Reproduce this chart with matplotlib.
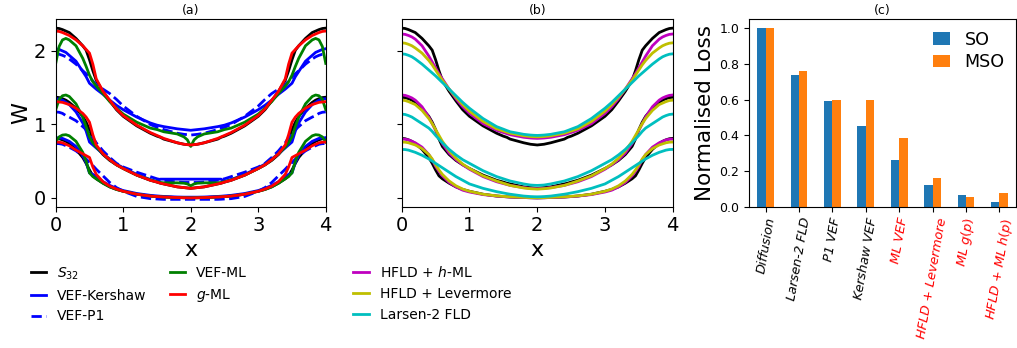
import numpy as np
import matplotlib
matplotlib.use("Agg")
import matplotlib.pyplot as plt

# half profile (x in [0, 2]); the curves are symmetric about x = 2
x_half = [0.0, 0.05, 0.1, 0.15, 0.2, 0.3, 0.4, 0.45, 0.5, 0.55, 0.6, 0.7, 0.8, 0.9,
          1.0, 1.2, 1.4, 1.5, 1.55, 1.6, 1.8, 1.9, 1.95, 2.0]

# S32 reference (three times)
s32_top = [2.31, 2.305, 2.29, 2.27, 2.25, 2.17, 2.07, 2.01, 1.88, 1.73, 1.60, 1.45, 1.32, 1.20,
           1.11, 0.98, 0.88, 0.84, 0.825, 0.80, 0.75, 0.73, 0.725, 0.72]
s32_mid = [1.37, 1.365, 1.35, 1.33, 1.30, 1.22, 1.11, 1.03, 0.93, 0.80, 0.70, 0.59, 0.51, 0.45,
           0.40, 0.31, 0.24, 0.215, 0.20, 0.19, 0.15, 0.14, 0.135, 0.13]
s32_bot = [0.81, 0.805, 0.79, 0.77, 0.74, 0.66, 0.55, 0.47, 0.38, 0.30, 0.26, 0.20, 0.15, 0.115,
           0.09, 0.05, 0.025, 0.018, 0.015, 0.012, 0.005, 0.002, 0.001, 0.0]

# VEF-Kershaw
ker_top = [2.03, 2.02, 2.00, 1.98, 1.94, 1.86, 1.72, 1.65, 1.56, 1.52, 1.48, 1.41, 1.33, 1.26,
           1.20, 1.10, 1.02, 0.99, 0.98, 0.97, 0.94, 0.93, 0.925, 0.92]
ker_mid = [1.35, 1.345, 1.33, 1.30, 1.27, 1.17, 1.02, 0.91, 0.76, 0.72, 0.68, 0.60, 0.53, 0.46,
           0.41, 0.32, 0.25, 0.22, 0.255, 0.255, 0.255, 0.255, 0.255, 0.255]
ker_bot = [0.82, 0.815, 0.81, 0.79, 0.77, 0.70, 0.58, 0.48, 0.34, 0.32, 0.29, 0.22, 0.17, 0.13,
           0.10, 0.06, 0.035, 0.027, 0.023, 0.02, 0.012, 0.01, 0.01, 0.01]

# VEF-P1
p1_top = [1.96, 1.955, 1.94, 1.92, 1.89, 1.82, 1.73, 1.69, 1.64, 1.59, 1.54, 1.48, 1.42, 1.34,
          1.25, 1.11, 1.00, 0.96, 0.95, 0.93, 0.88, 0.865, 0.86, 0.855]
p1_mid = [1.17, 1.165, 1.15, 1.12, 1.10, 1.05, 0.97, 0.93, 0.88, 0.82, 0.75, 0.64, 0.55, 0.47,
          0.42, 0.35, 0.29, 0.26, 0.25, 0.24, 0.215, 0.21, 0.21, 0.21]
p1_bot = [0.74, 0.738, 0.73, 0.71, 0.69, 0.64, 0.57, 0.53, 0.48, 0.44, 0.39, 0.30, 0.21, 0.14,
          0.09, 0.02, -0.01, -0.015, -0.018, -0.02, -0.02, -0.02, -0.02, -0.02]

# VEF-ML
vml_top = [1.83, 2.06, 2.15, 2.17, 2.15, 2.07, 1.90, 1.79, 1.67, 1.58, 1.52, 1.42, 1.31, 1.22,
           1.14, 1.03, 0.95, 0.93, 0.915, 0.90, 0.87, 0.83, 0.79, 0.70]
vml_mid = [1.20, 1.34, 1.39, 1.40, 1.38, 1.28, 1.10, 0.97, 0.83, 0.75, 0.69, 0.60, 0.52, 0.45,
           0.40, 0.31, 0.245, 0.22, 0.21, 0.205, 0.205, 0.20, 0.19, 0.165]
vml_bot = [0.76, 0.83, 0.855, 0.86, 0.845, 0.77, 0.62, 0.50, 0.34, 0.29, 0.26, 0.20, 0.15, 0.115,
           0.09, 0.05, 0.025, 0.018, 0.015, 0.012, 0.005, 0.003, 0.002, 0.0]

# g-ML
gml_top = [2.27, 2.265, 2.25, 2.23, 2.21, 2.15, 2.07, 2.02, 1.97, 1.82, 1.62, 1.45, 1.33, 1.21,
           1.12, 0.99, 0.89, 0.85, 0.83, 0.81, 0.75, 0.73, 0.725, 0.72]
gml_mid = [1.31, 1.305, 1.30, 1.285, 1.27, 1.22, 1.15, 1.10, 1.03, 0.86, 0.72, 0.60, 0.52, 0.45,
           0.40, 0.31, 0.24, 0.215, 0.20, 0.19, 0.15, 0.14, 0.135, 0.13]
gml_bot = [0.76, 0.758, 0.75, 0.73, 0.71, 0.65, 0.60, 0.575, 0.55, 0.42, 0.32, 0.22, 0.16, 0.12,
           0.09, 0.05, 0.025, 0.018, 0.015, 0.012, 0.005, 0.002, 0.001, 0.0]

# HFLD + h-ML
hml_top = [2.23, 2.225, 2.21, 2.19, 2.16, 2.07, 1.93, 1.85, 1.77, 1.69, 1.62, 1.48, 1.35, 1.24,
           1.15, 1.01, 0.92, 0.89, 0.875, 0.86, 0.825, 0.815, 0.812, 0.81]
hml_mid = [1.40, 1.395, 1.38, 1.36, 1.33, 1.24, 1.10, 1.01, 0.92, 0.83, 0.74, 0.61, 0.52, 0.45,
           0.39, 0.29, 0.22, 0.195, 0.183, 0.17, 0.14, 0.13, 0.127, 0.125]
hml_bot = [0.80, 0.798, 0.79, 0.77, 0.75, 0.69, 0.59, 0.52, 0.43, 0.36, 0.30, 0.21, 0.15, 0.105,
           0.08, 0.045, 0.025, 0.018, 0.015, 0.012, 0.005, 0.002, 0.001, 0.0]

# HFLD + Levermore
lev_top = [2.11, 2.105, 2.09, 2.07, 2.04, 1.97, 1.87, 1.81, 1.74, 1.67, 1.60, 1.48, 1.37, 1.27,
           1.18, 1.04, 0.94, 0.91, 0.895, 0.88, 0.845, 0.835, 0.832, 0.83]
lev_mid = [1.33, 1.325, 1.31, 1.29, 1.27, 1.19, 1.08, 1.01, 0.93, 0.85, 0.77, 0.64, 0.54, 0.46,
           0.40, 0.30, 0.23, 0.20, 0.185, 0.17, 0.135, 0.125, 0.122, 0.12]
lev_bot = [0.76, 0.758, 0.75, 0.735, 0.72, 0.67, 0.59, 0.53, 0.45, 0.38, 0.32, 0.23, 0.165, 0.12,
           0.09, 0.05, 0.028, 0.021, 0.018, 0.015, 0.007, 0.004, 0.003, 0.003]

# Larsen-2 FLD
lar_top = [1.96, 1.955, 1.94, 1.92, 1.89, 1.82, 1.74, 1.70, 1.66, 1.615, 1.57, 1.48, 1.39, 1.30,
           1.22, 1.08, 0.97, 0.935, 0.917, 0.90, 0.865, 0.855, 0.852, 0.85]
lar_mid = [1.14, 1.135, 1.12, 1.10, 1.07, 1.01, 0.95, 0.905, 0.85, 0.80, 0.75, 0.66, 0.585, 0.52,
           0.47, 0.37, 0.29, 0.26, 0.245, 0.23, 0.19, 0.175, 0.172, 0.17]
lar_bot = [0.66, 0.658, 0.65, 0.635, 0.62, 0.58, 0.53, 0.50, 0.47, 0.44, 0.41, 0.35, 0.29, 0.24,
           0.19, 0.13, 0.085, 0.067, 0.058, 0.05, 0.025, 0.018, 0.016, 0.015]

# panel (c)
methods = ['Diffusion', 'Larsen-2 FLD', 'P1 VEF', 'Kershaw VEF', 'ML VEF',
           'HFLD + Levermore', 'ML $g(p)$', 'HFLD + ML $h(p)$']
is_ml = [False, False, False, False, True, True, True, True]
loss_so = [1.0, 0.74, 0.59, 0.45, 0.26, 0.12, 0.065, 0.025]
loss_mso = [1.0, 0.76, 0.60, 0.60, 0.385, 0.16, 0.055, 0.075]


def full(y):
    # mirror the half profile about x = 2
    xh = np.array(x_half)
    yh = np.array(y)
    xf = np.concatenate([xh, 4 - xh[::-1][1:]])
    yf = np.concatenate([yh, yh[::-1][1:]])
    return xf, yf


fig = plt.figure(figsize=(10.17, 3.48), dpi=100)
ax1 = fig.add_axes([0.0548, 0.406, 0.2655, 0.5385])
ax2 = fig.add_axes([0.395, 0.406, 0.2665, 0.5385], sharey=ax1)
ax3 = fig.add_axes([0.7365, 0.406, 0.2625, 0.5385])

lw = 2.0
groups_a = [
    ('k', '-', r'$S_{32}$', [s32_top, s32_mid, s32_bot]),
    ('b', '-', 'VEF-Kershaw', [ker_top, ker_mid, ker_bot]),
    ('b', '--', 'VEF-P1', [p1_top, p1_mid, p1_bot]),
    ('g', '-', 'VEF-ML', [vml_top, vml_mid, vml_bot]),
    ('r', '-', '$g$-ML', [gml_top, gml_mid, gml_bot]),
]
for col, ls, lab, curves in groups_a:
    for i, y in enumerate(curves):
        xf, yf = full(y)
        ax1.plot(xf, yf, color=col, ls=ls, lw=lw, label=lab if i == 0 else None)

groups_b = [
    ('k', None, [s32_top, s32_mid, s32_bot]),
    ('m', 'HFLD + $h$-ML', [hml_top, hml_mid, hml_bot]),
    ('y', 'HFLD + Levermore', [lev_top, lev_mid, lev_bot]),
    ('c', 'Larsen-2 FLD', [lar_top, lar_mid, lar_bot]),
]
for col, lab, curves in groups_b:
    for i, y in enumerate(curves):
        xf, yf = full(y)
        ax2.plot(xf, yf, color=col, lw=lw, label=lab if i == 0 else None)

for ax, t in [(ax1, '(a)'), (ax2, '(b)')]:
    ax.set_xlim(0, 4)
    ax.set_ylim(-0.12, 2.43)
    ax.set_xticks([0, 1, 2, 3, 4])
    ax.set_yticks([0, 1, 2])
    ax.tick_params(labelsize=14)
    ax.set_xlabel('x', fontsize=16, labelpad=3)
    ax.set_title(t, fontsize=9, pad=4)
ax1.set_ylabel('W', fontsize=16, labelpad=2)
ax2.tick_params(labelleft=False)

ax1.legend(loc='upper left', bbox_to_anchor=(0.025, 0.254), bbox_transform=fig.transFigure,
           ncol=2, frameon=False, fontsize=10, handlelength=1.1, columnspacing=1.65,
           borderaxespad=0)
ax2.legend(loc='upper left', bbox_to_anchor=(0.342, 0.254), bbox_transform=fig.transFigure,
           frameon=False, fontsize=10, handlelength=1.1, borderaxespad=0)

xb = np.arange(len(methods))
ax3.bar(xb - 0.125, loss_so, 0.25, color='#1f77b4', label='SO')
ax3.bar(xb + 0.125, loss_mso, 0.25, color='#ff7f0e', label='MSO')
ax3.set_xlim(-0.5, len(methods) - 0.5)
ax3.set_ylim(0, 1.05)
ax3.set_xticks(xb)
ax3.set_xticklabels(methods, rotation=80, fontsize=9.3, style='italic')
for lbl, ml in zip(ax3.get_xticklabels(), is_ml):
    if ml:
        lbl.set_color('red')
ax3.tick_params(axis='y', labelsize=9)
ax3.set_ylabel('Normalised Loss', fontsize=15.5, labelpad=3)
ax3.set_title('(c)', fontsize=9, pad=4)
ax3.legend(loc='upper right', frameon=False, fontsize=12.6, handlelength=1.0,
           labelspacing=0.25, borderaxespad=0.25)

fig.savefig('out.png', dpi=100)
